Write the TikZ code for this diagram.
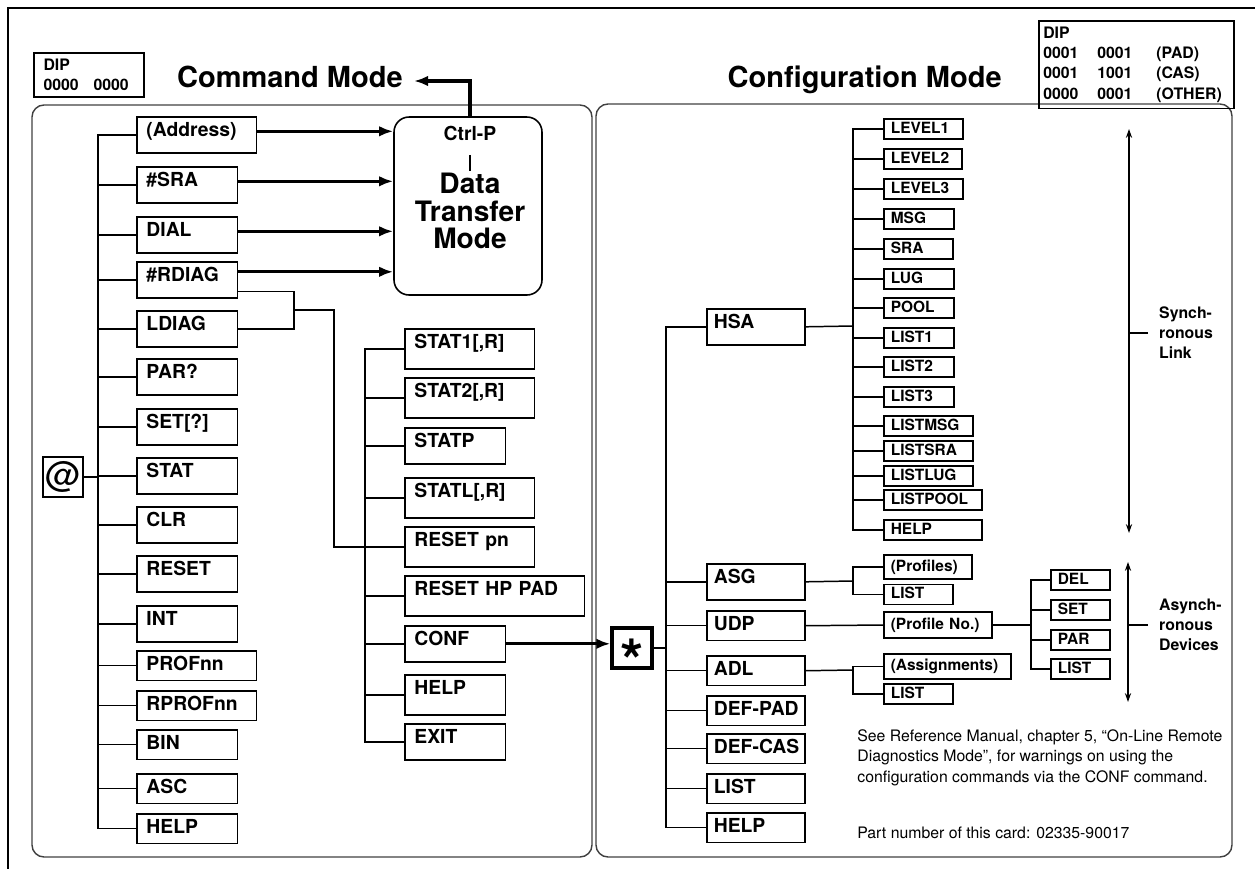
\documentclass[tikz,border=0pt]{standalone}
\usepackage{fontspec}
\setmainfont{TeX Gyre Heros}
\usetikzlibrary{arrows.meta,calc}
\tikzset{
  cmdbox/.style    = {rectangle, draw, line width=0.9pt, anchor=north west, align=left,
                       inner xsep=5.5pt, inner ysep=2pt, text height=9pt, text depth=7.5pt,
                       font=\fontsize{11}{13}\selectfont\bfseries},
  subbox/.style    = {rectangle, draw, line width=0.9pt, anchor=west, align=left,
                       inner xsep=4pt, inner ysep=1.5pt, text height=6.8pt, text depth=1.8pt,
                       font=\fontsize{8.8}{10}\selectfont\bfseries},
  dipbox/.style    = {rectangle, draw, line width=0.9pt, anchor=north west, align=left,
                       font=\fontsize{9}{11.6}\selectfont\bfseries},
  modetitle/.style = {anchor=base east, inner sep=0pt, font=\fontsize{16.5}{18}\selectfont\bfseries},
  dtmbox/.style    = {rectangle, draw, line width=0.9pt, rounded corners=0.3cm,
                       minimum width=2.96cm, minimum height=3.56cm},
  keybox/.style    = {rectangle, draw, line width=0.9pt, minimum size=0.8cm, inner sep=0pt},
  sidelabel/.style = {anchor=west, align=left, font=\fontsize{9}{11.4}\selectfont\bfseries},
  notetext/.style  = {anchor=north west, align=left, inner sep=0pt, font=\fontsize{9}{11.7}\selectfont},
  tree/.style      = {line width=0.85pt},
  thickarrow/.style= {-{Latex[length=8pt,width=6pt]}, line width=1.8pt},
  spanarrow/.style = {{Stealth[length=5pt,width=3.5pt]}-{Stealth[length=5pt,width=3.5pt]}, line width=0.9pt},
  spantick/.style  = {line width=1.6pt, shorten <=0.1cm},
  panel/.style     = {draw=black!75, line width=0.8pt, rounded corners=0.24cm},
}
\newcommand{\dipcol}[2]{\makebox[#1][l]{#2}}

\begin{document}
\begin{tikzpicture}[x=0.02cm, y=-0.02cm]
\useasboundingbox (0,0) rectangle (1255,869);
% card frame and the two mode panels
\draw[line width=1.3pt] (8,869) -- (8,8) -- (1255,8);
\draw[panel] (32,105) rectangle (592,857);
\draw[panel] (596,104) rectangle (1232,857);

% headings
\node[dipbox, minimum width=2.2cm, minimum height=0.88cm, text width=1.81cm, inner xsep=5.5pt]
  (dipcmd) at (33,52) {DIP\\\dipcol{1.0cm}{0000}0000};
\node[modetitle] (cmdtitle) at (403,87) {Command Mode};
\node[modetitle] (conftitle) at (1002,87) {Configuration Mode};
\node[dipbox, minimum width=3.9cm, minimum height=1.6cm, text width=3.72cm, inner xsep=2.5pt]
  (dipconf) at (1038,20) {DIP\\
  \dipcol{1.08cm}{0001}\dipcol{1.18cm}{0001}(PAD)\\
  \dipcol{1.08cm}{0001}\dipcol{1.18cm}{1001}(CAS)\\
  \dipcol{1.08cm}{0000}\dipcol{1.18cm}{0001}(OTHER)};

% data transfer mode
\node[dtmbox] (dtm) at (468,206) {};
\node[font=\fontsize{11}{13}\selectfont\bfseries] (ctrlp) at (470,133) {Ctrl-P};
\node[align=center, font=\fontsize{16}{15.6}\selectfont\bfseries] (dtmtext) at (470,211) {Data\\Transfer\\Mode};
\draw[line width=1.5pt, shorten <=0.17cm, shorten >=-0.08cm] (ctrlp.south) -- (dtmtext.north);
\coordinate (cmdin) at (414,81);
\draw[thickarrow] (dtm.north -| ctrlp.north) |- (cmdin);

% command mode: @ and its commands
\node[keybox, font=\fontsize{20}{20}\selectfont] (atkey) at (63,477) {@};
\foreach \lab/\yy/\ww/\dd [count=\i] in {
  {(Address)}/116/2.01cm/7.5pt, \#SRA/166/1.63cm/7.5pt, DIAL/216/1.63cm/7.5pt,
  \#RDIAG/261/1.63cm/7.5pt, LDIAG/310/1.63cm/7.5pt, PAR?/358/1.63cm/7.5pt,
  {SET[?]}/408/1.63cm/7.5pt, STAT/457/1.63cm/7.5pt, CLR/506/1.63cm/7.5pt,
  RESET/555/1.63cm/7.5pt, INT/605/1.63cm/7.5pt, PROFnn/650/2.01cm/4pt,
  RPROFnn/690/2.01cm/4pt, BIN/729/1.63cm/4pt, ASC/773/1.63cm/4pt, HELP/813/1.63cm/4pt}
  \node[cmdbox, text width=\ww, text depth=\dd] (c\i) at (136,\yy) {\lab};
\coordinate (atbus) at (98,477);
\draw[tree] (atkey.east) -- (atbus);
\foreach \i in {1,...,16} \draw[tree] (c\i.west) -| (atbus);
\foreach \i/\dy in {1/0.07cm, 2/0.07cm, 3/0.07cm, 4/0.16cm}
  \draw[thickarrow] ([yshift=\dy]c\i.east) -- ([yshift=\dy]c\i.east -| dtm.west);

% diagnostics commands
\foreach \lab/\yy/\ww/\dd [count=\i] in {
  {STAT1[,R]}/328/2.21cm/9.8pt, {STAT2[,R]}/377/2.21cm/9.8pt, STATP/427/1.63cm/7.5pt,
  {STATL[,R]}/477/2.21cm/9.8pt, RESET pn/526/2.21cm/9.8pt, RESET HP PAD/575/3.21cm/9.8pt,
  CONF/625/1.63cm/7.5pt, HELP/674/1.63cm/9.8pt, EXIT/723/1.63cm/7.5pt}
  \node[cmdbox, text width=\ww, text depth=\dd] (s\i) at (404,\yy) {\lab};
\coordinate (diagjoin) at (294,310);
\coordinate (diagturn) at (334,310);
\draw[tree] ([yshift=0.14cm]c4.south east) -| (diagjoin);
\draw[tree] (c5.east) -| (diagjoin);
\draw[tree] (diagjoin) -- (diagturn) |- (s5.west);
\coordinate (statbus) at (365,546);
\foreach \i in {1,...,9} \draw[tree] (s\i.west) -| (statbus);

% configuration mode
\node[keybox, line width=1.8pt, font=\fontsize{34}{34}\selectfont\bfseries,
      text height=0pt, text depth=0pt] (star) at (632,648) {\raisebox{-0.575em}{*}};
\draw[thickarrow] (s7.east) -- (s7.east -| star.west);
\foreach \lab/\yy/\dd [count=\i] in {HSA/308/7.5pt, ASG/563/7.5pt, UDP/610/4pt, ADL/655/4pt,
  \mbox{DEF-PAD}/695/4pt, \mbox{DEF-CAS}/733/4pt, LIST/773/4pt, HELP/812/4pt}
  \node[cmdbox, inner xsep=4pt, text width=1.68cm, text depth=\dd] (r\i) at (706,\yy) {\lab};
\coordinate (confbus) at (666,648);
\draw[tree] (star.east) -- (confbus);
\foreach \i in {1,...,8} \draw[tree] (r\i.west) -| (confbus);

% HSA parameters
\foreach \lab/\yy/\ww [count=\i] in {LEVEL1/129/1.30cm, LEVEL2/159/1.28cm, LEVEL3/189/1.30cm,
  MSG/219/1.12cm, SRA/249/1.10cm, LUG/279/1.12cm, POOL/308/1.12cm, LIST1/338/1.12cm,
  LIST2/367/1.12cm, LIST3/397/1.12cm, LISTMSG/426/1.50cm, LISTSRA/451/1.50cm,
  LISTLUG/476/1.50cm, LISTPOOL/500/1.68cm, HELP/530/1.68cm}
  \node[subbox, text width=\ww] (h\i) at (883,\yy) {\lab};
\coordinate (hsabus) at (853,326);
\draw[tree] (r1.east) -- (hsabus);
\foreach \i in {1,...,15} \draw[tree] (h\i.west) -| (hsabus);

% ASG, UDP, ADL parameters
\node[subbox, text width=1.48cm, minimum height=0.48cm] (a1) at (883,567) {(Profiles)};
\node[subbox, text width=1.10cm] (a2) at (883,594.5) {LIST};
\coordinate (asgbus) at (853,581);
\draw[tree] (r2.east) -- (asgbus);
\foreach \i in {1,2} \draw[tree] (a\i.west) -| (asgbus);

\node[subbox, text width=1.88cm, minimum height=0.52cm] (pno) at (883,625) {(Profile No.)};
\draw[tree] (r3.east) -- (pno.west);
\foreach \lab/\yy [count=\i] in {DEL/580, SET/610, PAR/640, LIST/669}
  \node[subbox, text width=0.90cm] (p\i) at (1050,\yy) {\lab};
\coordinate (pnobus) at (1031,625);
\draw[tree] (pno.east) -- (pnobus);
\foreach \i in {1,...,4} \draw[tree] (p\i.west) -| (pnobus);

\node[subbox, text width=2.26cm, minimum height=0.5cm] (d1) at (883,666.5) {(Assignments)};
\node[subbox, text width=1.10cm] (d2) at (883,694) {LIST};
\coordinate (adlbus) at (853,670);
\draw[tree] (r4.east) -- (adlbus);
\foreach \i in {1,2} \draw[tree] (d\i.west) -| (adlbus);

% scope markers
\coordinate (synctop) at (1129,129);
\coordinate (syncbot) at (1129,533);
\draw[spanarrow] (synctop) -- (syncbot);
\node[sidelabel] (synclab) at (1153,333) {Synch-\\ronous\\Link};
\draw[spantick] (synclab.west) -- (synclab.west -| synctop);
\coordinate (asynctop) at (1128,562);
\coordinate (asyncbot) at (1128,702);
\draw[spanarrow] (asynctop) -- (asyncbot);
\node[sidelabel] (asynclab) at (1153,625) {Asynch-\\ronous\\Devices};
\draw[spantick] (asynclab.west) -- (asynclab.west -| asynctop);

% notes
\node[notetext] (note) at (857,729) {See Reference Manual, chapter 5, ``On-Line Remote\\
  Diagnostics Mode'', for warnings on using the\\configuration commands via the CONF command.};
\node[notetext] (partno) at (857,827) {Part number of this card: 02335-90017};
\end{tikzpicture}
\end{document}
